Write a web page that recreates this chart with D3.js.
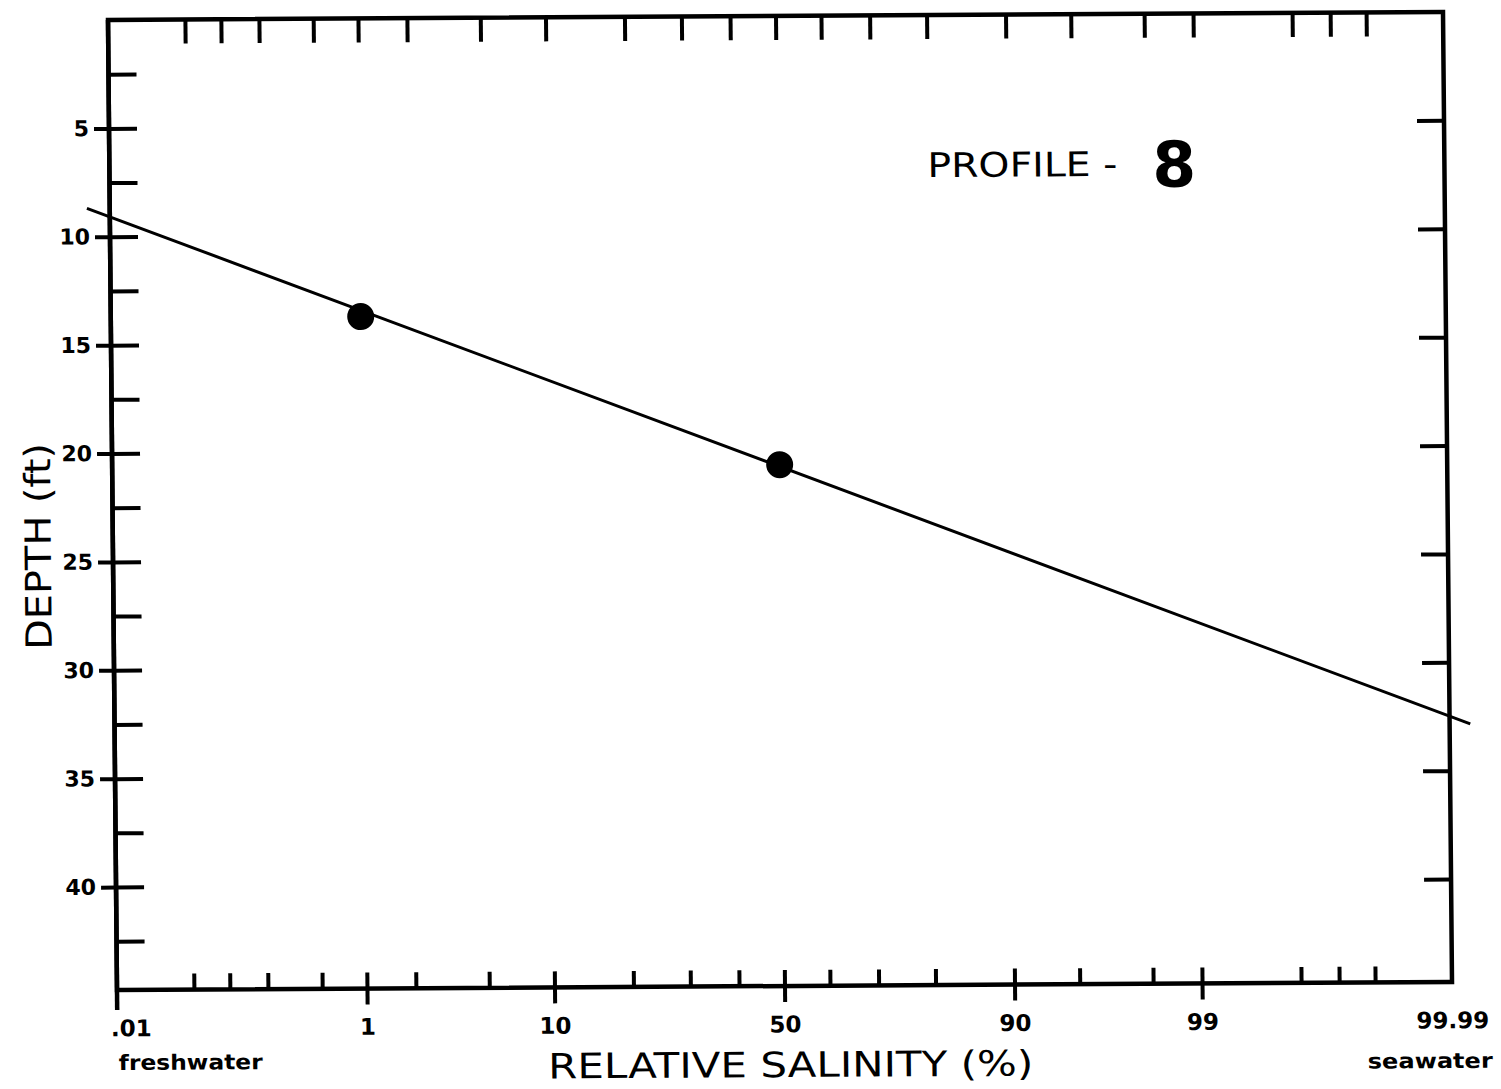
<!DOCTYPE html>
<html>
<head>
<meta charset="utf-8">
<script src="https://cdn.jsdelivr.net/npm/d3@7"></script>
<style>
  html, body { margin: 0; padding: 0; background: #fff; }
  svg { display: block; }
  text { font-family: "DejaVu Sans", sans-serif; fill: #000; }
</style>
</head>
<body>
<svg id="chart" width="1501" height="1089"></svg>
<script>
// ---- data ----
const salinityLabels = [0.01, 1, 10, 50, 90, 99, 99.99];          // labelled probability ticks (%)
const salinityMajor  = [1, 10, 50, 90, 99];                        // ticks crossing the bottom axis
const salinityMinor  = [0.05, 0.1, 0.2, 0.5, 1, 2, 5, 10, 20, 30, 40, 50,
                        60, 70, 80, 90, 95, 98, 99, 99.8, 99.9, 99.95];
const depthLabels    = [5, 10, 15, 20, 25, 30, 35, 40];             // ft
const depthMinor     = [2.5, 5, 7.5, 10, 12.5, 15, 17.5, 20, 22.5, 25, 27.5,
                        30, 32.5, 35, 37.5, 40, 42.5];
const samples = [                                                  // measured points
  { salinity: 1,  depth: 13.75 },
  { salinity: 50, depth: 20.7 }
];
const fitLine = [                                                  // fitted line, end to end
  { salinity: 0.006,   depth: 8.68 },
  { salinity: 99.9937, depth: 32.85 }
];
const profileName = "8";

// ---- inverse normal CDF (probability paper) ----
function probit(p) {
  const a = [-3.969683028665376e+01, 2.209460984245205e+02, -2.759285104469687e+02,
             1.383577518672690e+02, -3.066479806614716e+01, 2.506628277459239e+00];
  const b = [-5.447609879822406e+01, 1.615858368580409e+02, -1.556989798598866e+02,
             6.680131188771972e+01, -1.328068155288572e+01];
  const c = [-7.784894002430293e-03, -3.223964580411365e-01, -2.400758277161838e+00,
             -2.549732539343734e+00, 4.374664141464968e+00, 2.938163982698783e+00];
  const d = [7.784695709041462e-03, 3.224671290700398e-01, 2.445134137142996e+00,
             3.754408661907416e+00];
  const pl = 0.02425, ph = 1 - pl;
  let q, r;
  if (p < pl) {
    q = Math.sqrt(-2 * Math.log(p));
    return (((((c[0]*q + c[1])*q + c[2])*q + c[3])*q + c[4])*q + c[5]) /
           ((((d[0]*q + d[1])*q + d[2])*q + d[3])*q + 1);
  }
  if (p <= ph) {
    q = p - 0.5; r = q * q;
    return (((((a[0]*r + a[1])*r + a[2])*r + a[3])*r + a[4])*r + a[5]) * q /
           (((((b[0]*r + b[1])*r + b[2])*r + b[3])*r + b[4])*r + 1);
  }
  q = Math.sqrt(-2 * Math.log(1 - p));
  return -(((((c[0]*q + c[1])*q + c[2])*q + c[3])*q + c[4])*q + c[5]) /
          ((((d[0]*q + d[1])*q + d[2])*q + d[3])*q + 1);
}

// ---- layout ----
const W = 1335, H = 970;

// probability scale: linear in normal quantile of the percentage
function probabilityScale(domain, range) {
  const lin = d3.scaleLinear().domain(domain.map(v => probit(v / 100))).range(range);
  function s(p) { return lin(probit(p / 100)); }
  s.domain = () => domain.slice();
  s.range = () => lin.range();
  s.copy = () => probabilityScale(domain, range);
  return s;
}
const x = probabilityScale([0.01, 99.99], [0, W]);
const y = d3.scaleLinear().domain([0, 44.75]).range([0, H]);

const svg = d3.select("#chart");
// the drawing sheet sits a little askew
const g = svg.append("g").attr("transform", "matrix(1,-0.006,0.00928,1,108,20)");

const ink = "#000";
const fmt = v => (v === 0.01 ? ".01" : String(v));

// frame
g.append("rect").attr("x", 0).attr("y", 0).attr("width", W).attr("height", H)
  .attr("fill", "none").attr("stroke", ink).attr("stroke-width", 4.5);
// left axis runs a little below the bottom edge
g.append("line").attr("x1", 0).attr("x2", 0).attr("y1", 0).attr("y2", H + 20)
  .attr("stroke", ink).attr("stroke-width", 4.5);

function styleAxis(sel) {
  sel.select(".domain").remove();
  sel.selectAll(".tick line").attr("stroke", ink).attr("stroke-width", 4);
}

// top ticks
g.append("g").call(d3.axisBottom(x).tickValues(salinityMinor).tickSize(24).tickFormat(""))
  .call(styleAxis);

// bottom ticks: all pointing up, majors also down with labels
g.append("g").attr("transform", `translate(0,${H})`)
  .call(d3.axisBottom(x).tickValues(salinityMinor).tickSize(-16).tickFormat(""))
  .call(styleAxis);
g.append("g").attr("transform", `translate(0,${H})`)
  .call(d3.axisBottom(x).tickValues(salinityMajor).tickSize(16).tickFormat(""))
  .call(styleAxis);
const xLab = g.append("g").attr("transform", `translate(0,${H})`)
  .call(d3.axisBottom(x).tickValues(salinityLabels).tickSize(0).tickPadding(30).tickFormat(fmt))
  .call(styleAxis);
xLab.selectAll(".tick line").remove();
xLab.selectAll("text")
  .attr("font-family", "DejaVu Sans, sans-serif")
  .attr("font-size", 23).attr("font-weight", 600).attr("fill", ink)
  .attr("text-anchor", d => (d === 0.01 ? "start" : "middle"))
  .attr("dx", d => (d === 0.01 ? -7 : 0));

// left ticks: minor inward, majors also outward with labels
g.append("g")
  .call(d3.axisLeft(y).tickValues(depthMinor).tickSize(-28).tickFormat(""))
  .call(styleAxis);
const yLab = g.append("g")
  .call(d3.axisLeft(y).tickValues(depthLabels).tickSize(15).tickPadding(5).tickFormat(d3.format("d")))
  .call(styleAxis);
yLab.selectAll("text")
  .attr("font-family", "DejaVu Sans, sans-serif")
  .attr("font-size", 22).attr("font-weight", "bold").attr("fill", ink);

// right ticks
g.append("g").attr("transform", `translate(${W},0)`)
  .call(d3.axisRight(y).tickValues(depthLabels).tickSize(-27).tickFormat(""))
  .call(styleAxis);

// fitted line
g.append("path").datum(fitLine)
  .attr("d", d3.line().x(d => x(d.salinity)).y(d => y(d.depth)))
  .attr("fill", "none").attr("stroke", ink).attr("stroke-width", 3);

// measured points
g.append("g").selectAll("circle").data(samples).join("circle")
  .attr("cx", d => x(d.salinity)).attr("cy", d => y(d.depth)).attr("r", 13.5)
  .attr("fill", ink);

// end-member notes
g.append("text").attr("x", 1).attr("y", H + 80).attr("font-size", 21)
  .attr("textLength", 144).attr("lengthAdjust", "spacingAndGlyphs").attr("font-weight", "bold")
  .text("freshwater");
g.append("text").attr("x", W + 40).attr("y", H + 86).attr("font-size", 21)
  .attr("text-anchor", "end").attr("textLength", 125).attr("lengthAdjust", "spacingAndGlyphs")
  .attr("font-weight", "bold")
  .text("seawater");

// axis titles
g.append("text").attr("x", 673).attr("y", H + 91).attr("text-anchor", "middle")
  .attr("font-size", 35).attr("textLength", 485).attr("lengthAdjust", "spacingAndGlyphs")
  .text("RELATIVE SALINITY (%)");
g.append("text").attr("transform", "translate(-62,526) rotate(-90)")
  .attr("text-anchor", "middle").attr("font-size", 36)
  .attr("textLength", 207).attr("lengthAdjust", "spacingAndGlyphs")
  .text("DEPTH (ft)");

// profile caption
g.append("text").attr("x", 818).attr("y", 162).attr("font-size", 34)
  .attr("textLength", 190).attr("lengthAdjust", "spacingAndGlyphs")
  .text("PROFILE -");
g.append("text").attr("x", 1043).attr("y", 173).attr("font-size", 63).attr("font-weight", "bold")
  .text(profileName);
</script>
</body>
</html>
